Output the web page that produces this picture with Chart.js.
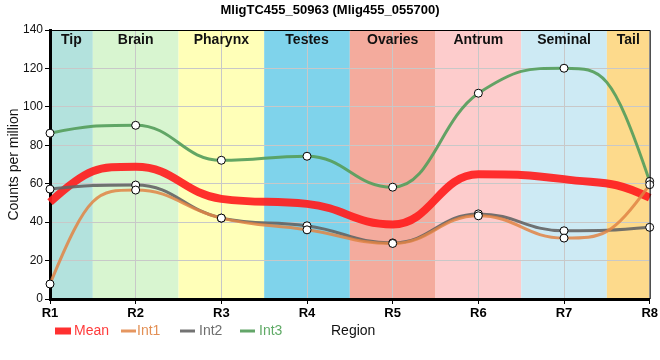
<!DOCTYPE html>
<html><head><meta charset="utf-8">
<script src="https://cdn.jsdelivr.net/npm/chart.js@4.4.0/dist/chart.umd.min.js"></script>
<style>html,body{margin:0;padding:0;background:#fff}#wrap{width:660px;height:360px}</style>
</head><body><div id="wrap"><canvas id="c" width="660" height="360"></canvas></div>
<script>
const categories = ['R1','R2','R3','R4','R5','R6','R7','R8'];
const regionNames = ['Tip','Brain','Pharynx','Testes','Ovaries','Antrum','Seminal','Tail'];
const regionColors = ['#b3e2dd','#d8f5d0','#ffffb8','#7fd3eb','#f4ab9d','#fdcccc','#cdeaf4','#fdda8c'];
const int1 = [7.8, 56.7, 42.1, 36.0, 28.9, 43.3, 31.7, 59.5];
const int2 = [57.2, 59.3, 42.1, 38.1, 29.2, 44.3, 35.5, 37.3];
const int3 = [86.3, 90.4, 72.2, 74.3, 58.2, 107.1, 120.1, 61.2];
const mean = [50.4, 68.8, 52.1, 49.5, 38.8, 64.9, 62.4, 52.7];
const yTicks = [0,20,40,60,80,100,120,140];
const titleText = 'MligTC455_50963 (Mlig455_055700)';
const FONT = '"Liberation Sans", Arial, sans-serif';

const series = [
  {label:'Mean', data:mean, color:'rgba(255,30,30,0.92)', width:8, points:false, order:4, legend:'box'},
  {label:'Int1', data:int1, color:'rgba(224,132,68,0.85)', width:3, points:true, order:1, legend:'line'},
  {label:'Int2', data:int2, color:'rgba(100,100,100,0.9)', width:3, points:true, order:2, legend:'line'},
  {label:'Int3', data:int3, color:'rgba(86,158,92,0.92)', width:3, points:true, order:3, legend:'line'}
];
const legendTextColors = ['#ff3b3b','#e39055','#6e6e6e','#5faa66'];

// reshape the library's monotone control points: steeper end tangents, wider spread
const smoothing = {
  id:'smoothing',
  beforeDatasetsDraw(chart){
    const K = 0.45;
    chart.getSortedVisibleDatasetMetas().forEach(meta=>{
      const line = meta.dataset;
      line.updateControlPoints(chart.chartArea, 'x');
      const p = meta.data, n = p.length;
      const m = [];
      for (let i=0;i<n;i++){
        if (i===0) m.push(3*(p[1].y-p[0].y)/(p[1].x-p[0].x));
        else if (i===n-1) m.push(3*(p[i].y-p[i-1].y)/(p[i].x-p[i-1].x));
        else {
          const dx = p[i].cp2x - p[i].x;
          m.push(dx ? (p[i].cp2y - p[i].y)/dx : 0);
        }
      }
      const clamp=(v,a,b)=>Math.min(Math.max(v,Math.min(a,b)),Math.max(a,b));
      for (let i=0;i<n;i++){
        if (i<n-1){
          const dx = p[i+1].x - p[i].x;
          p[i].cp2x = p[i].x + K*dx;
          p[i].cp2y = clamp(p[i].y + m[i]*K*dx, p[i].y, p[i+1].y);
        }
        if (i>0){
          const dx = p[i].x - p[i-1].x;
          p[i].cp1x = p[i].x - K*dx;
          p[i].cp1y = clamp(p[i].y - m[i]*K*dx, p[i-1].y, p[i].y);
        }
      }
    });
  }
};

const decor = {
  id:'decor',
  beforeDraw(chart){
    const {ctx, chartArea:a, scales:{x}} = chart;
    ctx.save();
    regionColors.forEach((col,i)=>{
      const l = Math.max(a.left, x.getPixelForValue(i-0.5));
      const r = Math.min(a.right, x.getPixelForValue(i+0.5));
      ctx.fillStyle = col;
      ctx.fillRect(l, a.top, r-l, a.bottom-a.top);
    });
    ctx.restore();
  },
  afterDatasetsDraw(chart){
    const {ctx, chartArea:a, scales:{x}} = chart;
    ctx.save();
    ctx.fillStyle = '#111';
    ctx.font = 'bold 14px ' + FONT;
    ctx.textAlign = 'center';
    ctx.textBaseline = 'middle';
    regionNames.forEach((n,i)=>{
      const l = Math.max(a.left, x.getPixelForValue(i-0.5));
      const r = Math.min(a.right, x.getPixelForValue(i+0.5));
      ctx.fillText(n, (l+r)/2, a.top+10);
    });
    ctx.strokeStyle = '#000';
    ctx.lineWidth = 1;
    ctx.beginPath();
    ctx.moveTo(a.left, a.top+0.5); ctx.lineTo(a.right+0.5, a.top+0.5);
    ctx.lineTo(a.right+0.5, a.bottom);
    ctx.stroke();
    ctx.restore();
  },
  afterDraw(chart){
    const {ctx, chartArea:a} = chart;
    ctx.save();
    ctx.fillStyle = '#000';
    ctx.font = 'bold 13px ' + FONT;
    ctx.textAlign = 'center';
    ctx.textBaseline = 'middle';
    ctx.fillText(titleText, 330, 10);
    ctx.save();
    ctx.translate(14, (a.top+a.bottom)/2);
    ctx.rotate(-Math.PI/2);
    ctx.font = '14px ' + FONT;
    ctx.fillStyle = '#111';
    ctx.fillText('Counts per million', 0, 0);
    ctx.restore();
    const ly = 331;
    const items = [[55,74],[121,137],[180,199],[240,259]];
    series.forEach((s,i)=>{
      const [bx,tx] = items[i];
      ctx.fillStyle = s.color;
      if (s.legend==='box') ctx.fillRect(bx, ly-3.5, 16, 7);
      else ctx.fillRect(bx, ly-1.5, 15, 3);
      ctx.fillStyle = legendTextColors[i];
      ctx.font = '14px ' + FONT;
      ctx.textAlign = 'left';
      ctx.fillText(s.label, tx, ly);
    });
    ctx.fillStyle = '#111';
    ctx.fillText('Region', 331, ly);
    ctx.restore();
  }
};

new Chart(document.getElementById('c'), {
  type:'line',
  data:{
    labels: categories,
    datasets: series.map(s=>({
      label:s.label, data:s.data, borderColor:s.color, backgroundColor:'#fff',
      borderWidth:s.width, cubicInterpolationMode:'monotone', order:s.order,
      pointRadius: s.points?4:0, pointBorderColor:'#000', pointBackgroundColor:'#fff',
      pointBorderWidth:1, fill:false, borderCapStyle:'butt'
    }))
  },
  options:{
    responsive:false, animation:false,
    layout:{padding:{top:30, right:10, left:0, bottom:0}},
    plugins:{legend:{display:false}, title:{display:false}, tooltip:{enabled:false}},
    scales:{
      x:{
        type:'category', offset:false,
        grid:{color:'#c8c8c8', lineWidth:1, drawTicks:true, tickLength:5, tickColor:'#000'},
        border:{color:'#000', width:3},
        ticks:{color:'#000', font:{family:FONT, size:13, weight:'bold'}, padding:2, maxRotation:0},
        afterFit(s){ s.height = 61; }
      },
      y:{
        min:0, max:140,
        afterBuildTicks(s){ s.ticks = yTicks.map(v=>({value:v})); },
        grid:{color:'#c8c8c8', lineWidth:1, drawTicks:true, tickLength:5, tickColor:'#000'},
        border:{color:'#000', width:3},
        ticks:{color:'#111', font:{family:FONT, size:12}, padding:2},
        afterFit(s){ s.width = 50; }
      }
    }
  },
  plugins:[smoothing, decor]
});
</script></body></html>
